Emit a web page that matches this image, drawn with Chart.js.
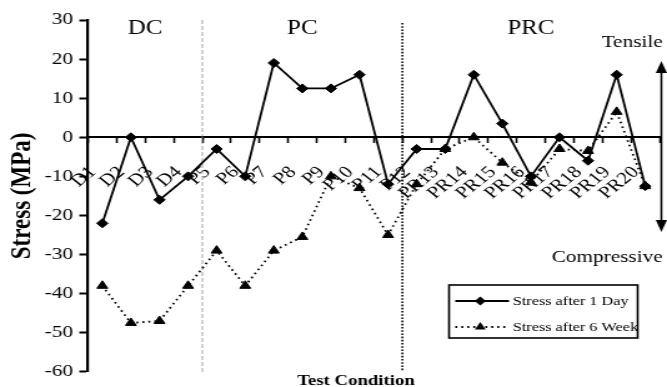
<!DOCTYPE html>
<html>
<head>
<meta charset="utf-8">
<script src="https://cdn.jsdelivr.net/npm/chart.js"></script>
<style>
html, body { margin: 0; padding: 0; background: #fff; }
#wrap { width: 667px; height: 387px; overflow: hidden; }
</style>
</head>
<body>
<div id="wrap"><canvas id="chart" width="534" height="387" style="width:667px;height:387px"></canvas></div>
<script>
'use strict';

//test conditions on the x axis
let testConditions = ['D1', 'D2', 'D3', 'D4', 'P5', 'P6', 'P7', 'P8', 'P9', 'P10',
    'P11', 'P12', 'PR13', 'PR14', 'PR15', 'PR16', 'PR17', 'PR18', 'PR19', 'PR20'];
//stress values (MPa)
let stressOneDay = [-22, 0, -16, -10, -3, -10, 19, 12.5, 12.5, 16,
    -12, -3, -3, 16, 3.5, -10, 0, -6, 16, -12.5];
let stressSixWeek = [-38, -47.5, -47, -38, -29, -38, -29, -25.5, -10, -13,
    -25, -12, -3, 0, -6.5, -11.5, -3, -3.5, 6.5, -12.5];
//y axis range
let stressMin = -60;
let stressMax = 30;
let stressStep = 10;
//groups of test conditions and the index of the first one in each group
let groupNames = ['DC', 'PC', 'PRC'];
let groupStarts = [0, 4, 11];

let serif = "'Liberation Serif', 'Times New Roman', serif";

//draw the group borders, group names, arrow, legend and axis title
let annotations = {
    id: 'annotations',
    beforeDatasetsDraw(chart) {
        let ctx = chart.ctx;
        let area = chart.chartArea;
        let x = chart.scales.x;
        ctx.save();
        for (let i = 1; i < groupStarts.length; i++) {
            let px = x.getPixelForValue(groupStarts[i] - 0.5);
            ctx.beginPath();
            if (i === 1) {
                ctx.strokeStyle = '#8a8a8a';
                ctx.lineWidth = 0.8;
                ctx.setLineDash([4, 2]);
                ctx.moveTo(px, area.top);
            } else {
                ctx.strokeStyle = '#000';
                ctx.lineWidth = 1.6;
                ctx.setLineDash([1.6, 1.6]);
                ctx.moveTo(px, area.top + 3);
            }
            ctx.lineTo(px, area.bottom);
            ctx.stroke();
        }
        ctx.restore();
    },
    afterDraw(chart) {
        let ctx = chart.ctx;
        let area = chart.chartArea;
        let x = chart.scales.x;
        ctx.save();
        ctx.fillStyle = '#000';
        ctx.strokeStyle = '#000';

        //group names
        ctx.font = '20px ' + serif;
        ctx.textAlign = 'center';
        ctx.textBaseline = 'alphabetic';
        for (let i = 0; i < groupNames.length; i++) {
            let first = groupStarts[i];
            let last = i + 1 < groupStarts.length ? groupStarts[i + 1] - 1 : testConditions.length - 1;
            ctx.fillText(groupNames[i], x.getPixelForValue((first + last) / 2), 34);
        }

        //tensile / compressive arrow
        let ax = area.right + 1.5;
        ctx.lineWidth = 1.6;
        ctx.beginPath();
        ctx.moveTo(ax, 70);
        ctx.lineTo(ax, 222);
        ctx.stroke();
        ctx.beginPath();
        ctx.moveTo(ax, 61);
        ctx.lineTo(ax - 4.5, 73);
        ctx.lineTo(ax + 4.5, 73);
        ctx.closePath();
        ctx.fill();
        ctx.beginPath();
        ctx.moveTo(ax, 232);
        ctx.lineTo(ax - 4.5, 220);
        ctx.lineTo(ax + 4.5, 220);
        ctx.closePath();
        ctx.fill();

        ctx.font = '17px ' + serif;
        ctx.textAlign = 'right';
        ctx.fillText('Tensile', ax + 1, 47);
        ctx.fillText('Compressive', ax + 1, 262);

        //x axis title
        ctx.font = 'bold 15px ' + serif;
        ctx.textAlign = 'center';
        ctx.fillText('Test Condition', 285, 385);

        //legend
        let lx = 359.5, ly = 285, lw = 151, lh = 53;
        ctx.fillStyle = '#fff';
        ctx.fillRect(lx, ly, lw, lh);
        ctx.lineWidth = 1.6;
        ctx.strokeRect(lx, ly, lw, lh);
        ctx.fillStyle = '#000';
        ctx.font = '13px ' + serif;
        ctx.textAlign = 'left';
        ctx.textBaseline = 'middle';
        chart.data.datasets.forEach(function (ds, i) {
            let rowY = ly + 16 + i * 26;
            ctx.beginPath();
            ctx.lineWidth = ds.borderWidth;
            ctx.setLineDash(ds.borderDash || []);
            ctx.moveTo(lx + 5, rowY);
            ctx.lineTo(lx + 48, rowY);
            ctx.stroke();
            ctx.setLineDash([]);
            let mx = lx + 25;
            let r = ds.pointRadius;
            ctx.beginPath();
            if (ds.pointStyle === 'rectRot') {
                ctx.moveTo(mx, rowY - r);
                ctx.lineTo(mx + r, rowY);
                ctx.lineTo(mx, rowY + r);
                ctx.lineTo(mx - r, rowY);
            } else {
                ctx.moveTo(mx, rowY - r);
                ctx.lineTo(mx + r * 0.87, rowY + r * 0.5);
                ctx.lineTo(mx - r * 0.87, rowY + r * 0.5);
            }
            ctx.closePath();
            ctx.fill();
            ctx.fillText(ds.label, lx + 51, rowY + 1);
        });
        ctx.restore();
    }
};

Chart.defaults.color = '#000';
Chart.defaults.font.family = serif;

let ctx = document.getElementById('chart').getContext('2d');
let chart = new Chart(ctx, {
    type: 'line',
    data: {
        labels: testConditions,
        datasets: [{
            label: 'Stress after 1 Day',
            data: stressOneDay,
            borderColor: '#000',
            backgroundColor: '#000',
            borderWidth: 1.8,
            pointStyle: 'rectRot',
            pointRadius: 4.5,
            pointBackgroundColor: '#000',
            pointBorderColor: '#000',
            pointBorderWidth: 1,
            tension: 0,
            order: 1
        }, {
            label: 'Stress after 6 Week',
            data: stressSixWeek,
            borderColor: '#000',
            backgroundColor: '#000',
            borderWidth: 1.8,
            borderDash: [1.6, 3.2],
            pointStyle: 'triangle',
            pointRadius: 5,
            pointBackgroundColor: '#000',
            pointBorderColor: '#000',
            pointBorderWidth: 1,
            tension: 0,
            order: 0
        }]
    },
    options: {
        responsive: false,
        animation: false,
        devicePixelRatio: 1,
        layout: { padding: { left: 0, right: 5.6, top: 20, bottom: 15 } },
        plugins: {
            legend: { display: false },
            tooltip: { enabled: false }
        },
        scales: {
            x: {
                type: 'category',
                position: { y: 0 },
                offset: true,
                afterFit(scale) {
                    //the rotated labels may hang outside the plot, as in the original
                    scale.paddingLeft = 0;
                    scale.paddingRight = 0;
                },
                grid: {
                    offset: true,
                    drawOnChartArea: false,
                    drawTicks: true,
                    tickLength: 5,
                    tickColor: '#000',
                    tickWidth: 1.6
                },
                border: { display: true, color: '#000', width: 2 },
                ticks: {
                    autoSkip: false,
                    minRotation: 45,
                    maxRotation: 45,
                    padding: 20,
                    labelOffset: -7.5,
                    font: { size: 17, family: serif },
                    color: '#000'
                }
            },
            y: {
                position: 'left',
                min: stressMin,
                max: stressMax,
                afterFit(scale) {
                    scale.width = 70.5;
                },
                grid: {
                    drawOnChartArea: false,
                    drawTicks: true,
                    tickLength: 7,
                    tickColor: '#000',
                    tickWidth: 2
                },
                border: { display: true, color: '#000', width: 2.2 },
                ticks: {
                    stepSize: stressStep,
                    padding: 5,
                    font: { size: 17, family: serif },
                    color: '#000'
                },
                title: {
                    display: true,
                    text: 'Stress (MPa)',
                    color: '#000',
                    font: { size: 23, weight: 'bold', family: serif },
                    padding: { top: 4, bottom: 0 }
                }
            }
        }
    },
    plugins: [annotations]
});
</script>
</body>
</html>
